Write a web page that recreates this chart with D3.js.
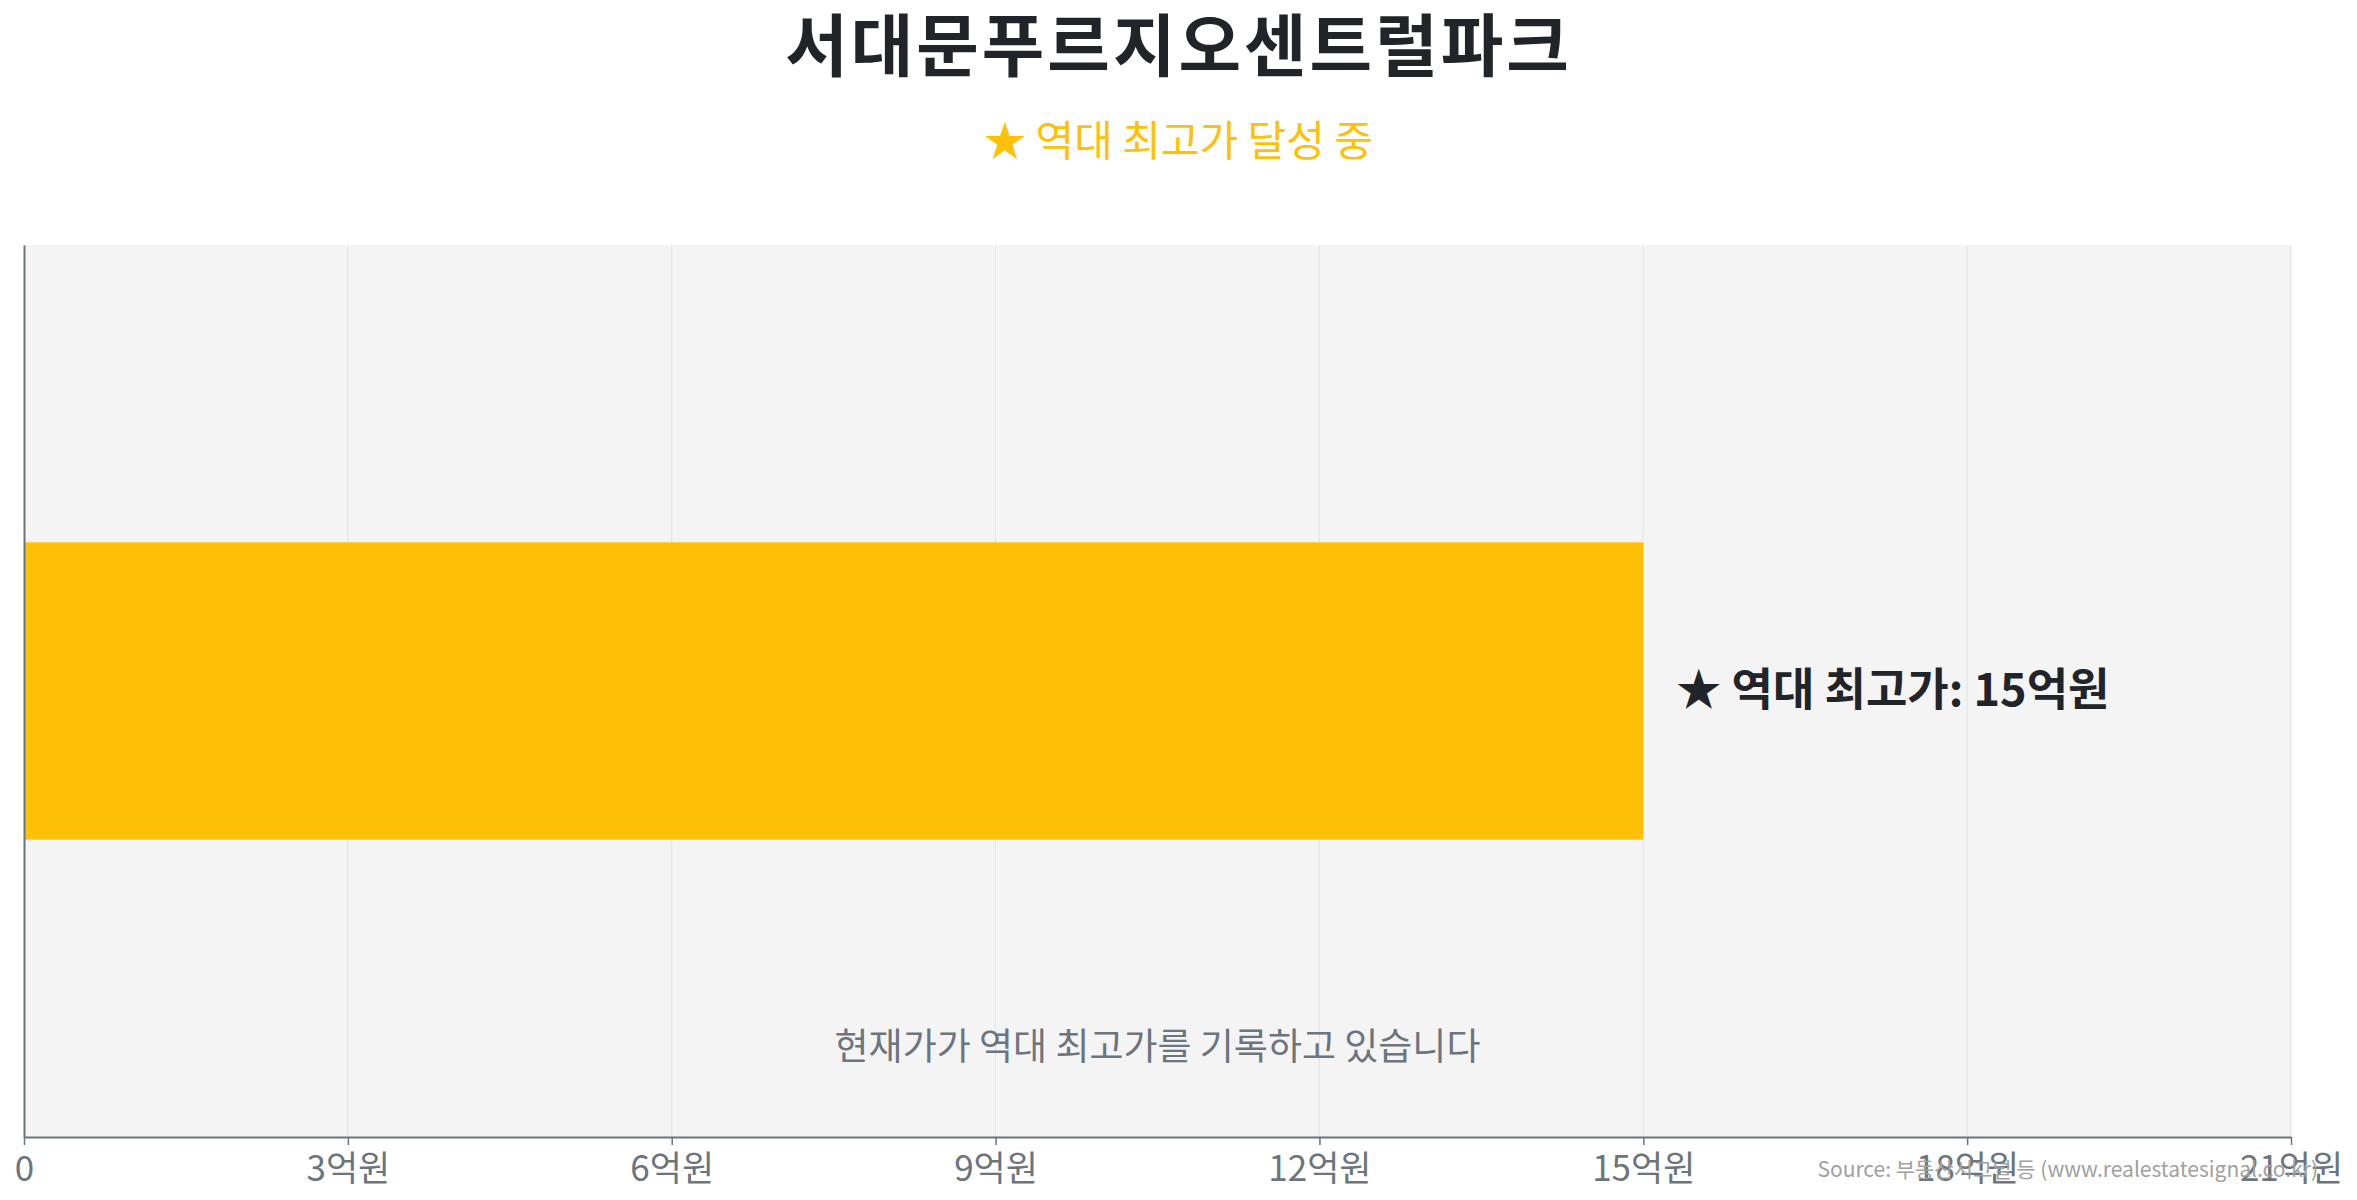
<!DOCTYPE html>
<html>
<head>
<meta charset="utf-8">
<script src="https://cdn.jsdelivr.net/npm/d3@7"></script>
<style>
  html, body { margin: 0; padding: 0; background: #fff; }
  svg { display: block; font-family: "Noto Sans CJK KR", "Noto Sans", sans-serif; }
</style>
</head>
<body>
<svg id="chart" width="2357" height="1200"></svg>
<script>
// chart data
const categories = ['서대문푸르지오센트럴파크']
const currentPrice = [15]      // 억원
const allTimeHigh = [15]       // 억원
const tickValues = [0, 3, 6, 9, 12, 15, 18, 21]
const titleText = '서대문푸르지오센트럴파크'
const subtitleText = '★ 역대 최고가 달성 중'
const noteText = '현재가가 역대 최고가를 기록하고 있습니다'
const sourceText = 'Source: 부동산시그널 등 (www.realestatesignal.co.kr)'

const svg = d3.select('#chart')
const W = 2357
const margin = {top: 245, right: 66, bottom: 63, left: 24}
const innerW = W - margin.left - margin.right
const innerH = 1200 - margin.top - margin.bottom

const x = d3.scaleLinear().domain([0, 21]).range([0, innerW])
const y = d3.scaleBand().domain(categories).range([0, innerH]).padding(0.5)

// title + subtitle
svg.append('text')
  .attr('x', W / 2).attr('y', 71)
  .attr('text-anchor', 'middle')
  .attr('font-size', 68).attr('font-weight', 700)
  .attr('letter-spacing', 3)
  .attr('fill', '#212529')
  .text(titleText)

svg.append('text')
  .attr('x', W / 2).attr('y', 156)
  .attr('text-anchor', 'middle')
  .attr('font-size', 42)
  .attr('fill', '#FFC107')
  .text(subtitleText)

const g = svg.append('g').attr('transform', `translate(${margin.left},${margin.top})`)

// plot background
g.append('rect')
  .attr('width', innerW).attr('height', innerH)
  .attr('fill', '#f4f4f4')

// vertical grid lines
g.selectAll('.grid').data(tickValues.slice(1))
  .join('line')
  .attr('class', 'grid')
  .attr('x1', d => x(d)).attr('x2', d => x(d))
  .attr('y1', 0).attr('y2', innerH)
  .attr('stroke', '#e3e3e3').attr('stroke-width', 1)

// bar
g.selectAll('.bar').data(categories)
  .join('rect')
  .attr('class', 'bar')
  .attr('x', 0)
  .attr('y', d => y(d))
  .attr('width', (d, i) => x(currentPrice[i]))
  .attr('height', y.bandwidth())
  .attr('fill', '#FFC107')

// all-time-high label next to the bar
g.selectAll('.athLabel').data(categories)
  .join('text')
  .attr('class', 'athLabel')
  .attr('x', (d, i) => x(allTimeHigh[i]) + 33)
  .attr('y', d => y(d) + y.bandwidth() / 2 + 15)
  .attr('font-size', 45).attr('font-weight', 700)
  .attr('fill', '#212529')
  .text((d, i) => `★ 역대 최고가: ${allTimeHigh[i]}억원`)

// note under the bar
g.append('text')
  .attr('x', innerW / 2).attr('y', 815)
  .attr('text-anchor', 'middle')
  .attr('font-size', 37)
  .attr('fill', '#6c757d')
  .text(noteText)

// x axis
const xAxis = g.append('g')
  .attr('transform', `translate(0,${innerH})`)
  .call(d3.axisBottom(x).tickValues(tickValues).tickSize(8).tickSizeOuter(0)
    .tickFormat(d => d === 0 ? '0' : d + '억원'))
xAxis.select('.domain').attr('stroke', '#6c757d').attr('stroke-width', 2)
xAxis.selectAll('.tick line').attr('stroke', '#6c757d').attr('stroke-width', 1.5)
xAxis.selectAll('.tick text')
  .attr('font-size', 35).attr('fill', '#6c757d')
  .attr('font-family', '"Noto Sans CJK KR", sans-serif')
  .attr('dy', '0.95em')

// y axis (no labels)
const yAxis = g.append('g')
  .call(d3.axisLeft(y).tickSize(0).tickFormat(''))
yAxis.select('.domain').attr('stroke', '#6c757d').attr('stroke-width', 2)

// source
svg.append('text')
  .attr('x', 2318).attr('y', 1177)
  .attr('text-anchor', 'end')
  .attr('font-size', 21)
  .attr('fill', '#a0a0a0')
  .text(sourceText)
</script>
</body>
</html>
